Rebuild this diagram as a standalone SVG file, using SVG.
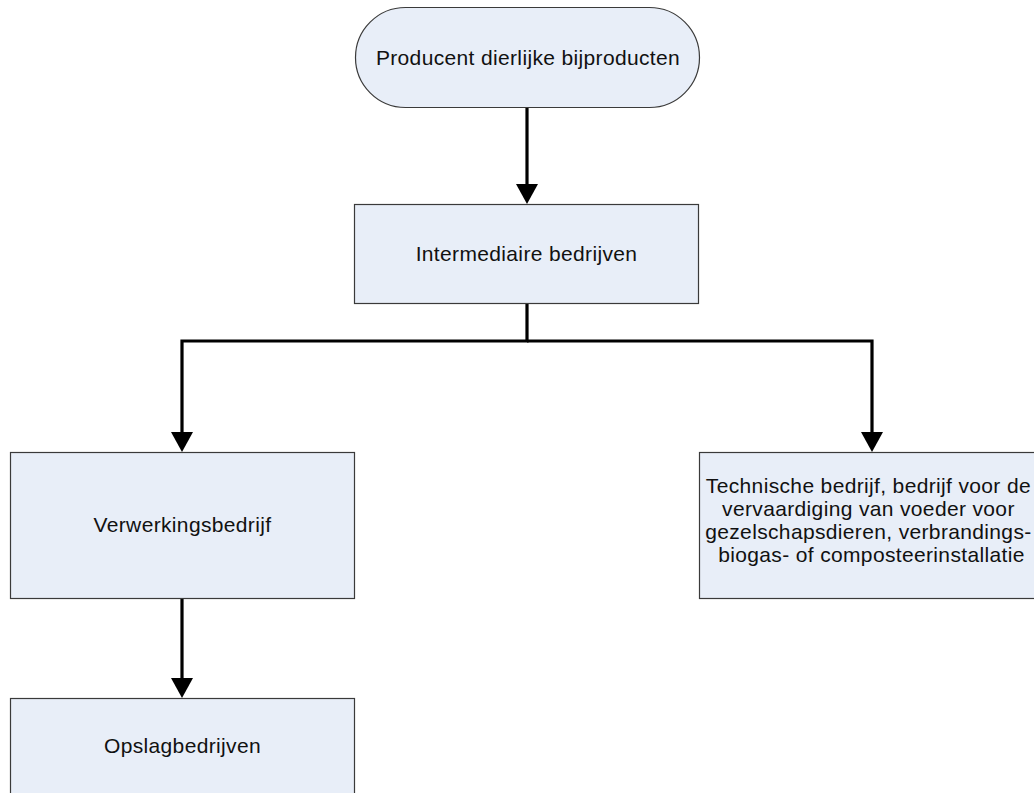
<svg xmlns="http://www.w3.org/2000/svg" width="1034" height="793" viewBox="0 0 1034 793">
  <style>
    .node { fill: #E8EEF8; stroke: #3a3a3a; stroke-width: 1.2; }
    .label { font-family: "Liberation Sans", Arial, sans-serif; font-size: 21px; letter-spacing: 0.35px; fill: #111; text-anchor: middle; }
    .conn { fill: none; stroke: #000; stroke-width: 3.2; stroke-linejoin: miter; }
  </style>
  <defs>
    <marker id="arrow" markerUnits="userSpaceOnUse" viewBox="0 -11 20 22" markerWidth="20" markerHeight="22" refX="10" refY="0" orient="auto">
      <path d="M0,-11 L20,0 L0,11 Z" fill="#000"/>
    </marker>
  </defs>
  <rect width="1034" height="793" fill="#fff"/>

  <g id="connectors">
    <path class="conn" d="M527,107 V194" marker-end="url(#arrow)"/>
    <path class="conn" d="M527,304 V341 H182 V442" marker-end="url(#arrow)"/>
    <path class="conn" d="M527,341 H872 V442" marker-end="url(#arrow)"/>
    <path class="conn" d="M182,599 V688" marker-end="url(#arrow)"/>
  </g>

  <g id="producent">
    <rect class="node" x="355.5" y="7.5" width="344" height="100" rx="50" ry="50"/>
    <text class="label" x="528" y="65">Producent dierlijke bijproducten</text>
  </g>

  <g id="intermediaire">
    <rect class="node" x="354.5" y="204.5" width="344" height="99"/>
    <text class="label" x="526.5" y="261">Intermediaire bedrijven</text>
  </g>

  <g id="verwerking">
    <rect class="node" x="10.5" y="452.5" width="344" height="146"/>
    <text class="label" x="182.5" y="532">Verwerkingsbedrijf</text>
  </g>

  <g id="technisch">
    <rect class="node" x="699.5" y="452.5" width="344" height="146"/>
    <text class="label" x="871.5">
      <tspan x="871.5" y="493">Technische bedrijf, bedrijf voor de</tspan>
      <tspan x="871.5" y="516">vervaardiging van voeder voor</tspan>
      <tspan x="871.5" y="539">gezelschapsdieren, verbrandings-</tspan>
      <tspan x="871.5" y="562">biogas- of composteerinstallatie</tspan>
    </text>
  </g>

  <g id="opslag">
    <rect class="node" x="10.5" y="698.5" width="344" height="146"/>
    <text class="label" x="182.5" y="753">Opslagbedrijven</text>
  </g>
</svg>
